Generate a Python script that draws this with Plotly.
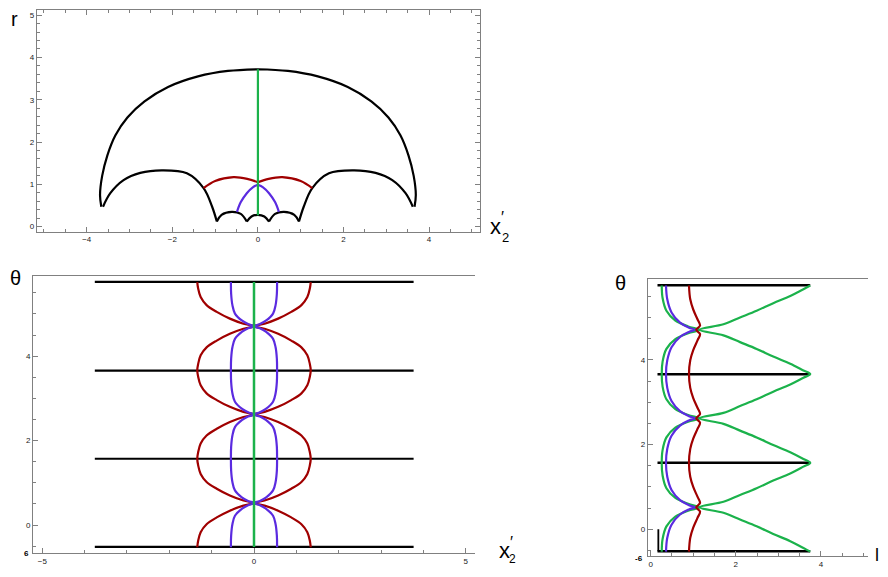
import plotly.graph_objects as go

# ---- top panel (x2', r): curves (left half, mirrored) ----
big_arc_x = [-3.66, -3.69, -3.64, -3.52, -3.33, -3.05, -2.65, -2.10, -1.40, -0.70, 0.0]
big_arc_y = [0.47, 0.75, 1.20, 1.68, 2.16, 2.58, 2.96, 3.30, 3.55, 3.68, 3.72]
mid_arc_x = [-3.62, -3.45, -3.14, -2.75, -2.25, -1.66, -1.27, -1.07, -0.96]
mid_arc_y = [0.47, 0.79, 1.10, 1.27, 1.33, 1.26, 0.91, 0.47, 0.12]
small_arc_x = [-0.96, -0.85, -0.61, -0.40, -0.26]
small_arc_y = [0.12, 0.28, 0.35, 0.30, 0.12]
center_arc_x = [-0.26, -0.15, 0.0, 0.15, 0.26]
center_arc_y = [0.12, 0.24, 0.28, 0.24, 0.12]
red_arc_x = [-1.27, -1.00, -0.57, -0.25, 0.0]
red_arc_y = [0.91, 1.08, 1.17, 1.13, 1.05]
blue_arc_x = [-0.49, -0.40, -0.26, -0.12, 0.0]
blue_arc_y = [0.35, 0.58, 0.79, 0.93, 0.99]
green_r = [0.27, 3.72]

# ---- theta panels ----
crossings = [0.52, 2.62, 4.71]
black_thetas = [-0.52, 1.57, 3.66, 5.76]
# distance in theta from a crossing, and curve half-width (x2') / value (l)
bl_red_dth = [0, 0.06, 0.18, 0.34, 0.50, 0.69, 0.90, 1.047]
bl_red_x = [0, 0.25, 0.57, 0.88, 1.12, 1.26, 1.32, 1.34]
bl_blue_dth = [0, 0.05, 0.13, 0.30, 0.50, 0.77, 1.047]
bl_blue_x = [0, 0.14, 0.28, 0.45, 0.51, 0.54, 0.545]
bl_black_x = [-3.76, 3.77]

rp_red_dth = [0, 0.10, 0.25, 0.48, 0.72, 1.047]
rp_red_l = [1.07, 1.16, 1.10, 1.00, 0.93, 0.90]
rp_blue_dth = [0, 0.05, 0.17, 0.41, 0.72, 1.047]
rp_blue_l = [1.04, 0.90, 0.69, 0.49, 0.39, 0.36]
rp_gin_dth = [0, 0.08, 0.22, 0.45, 0.75, 1.047]
rp_gin_l = [1.15, 0.88, 0.58, 0.37, 0.28, 0.26]
rp_gout_dth = [0, 0.13, 0.29, 0.45, 0.63, 0.80, 0.96, 1.047]
rp_gout_l = [1.15, 1.71, 2.10, 2.49, 2.88, 3.28, 3.59, 3.75]
rp_black_l = [0.16, 3.75]

RED, BLUE, GREEN, BLACK = "#a00000", "#5b2be0", "#1bb24b", "#000000"
# the page body keeps an 8px margin on every side; keep the figure inside the window
OFF = 8
W, H = 888 - 2 * OFF, 577 - 2 * OFF


def fx(px):
    return (px - OFF) / W


def fy(py):
    return 1 - (py - OFF) / H


def mirror(xs, ys):
    return xs + [-v for v in reversed(xs)], ys + list(reversed(ys))


def branch(dth, vals, sign=1):
    th, xs = [], []
    pairs = list(zip(dth, vals))
    for i, c in enumerate(crossings):
        lower = pairs[::-1] if i == 0 else pairs[::-1][1:]
        for d, v in lower:
            th.append(c - d); xs.append(sign * v)
        for d, v in pairs[1:]:
            th.append(c + d); xs.append(sign * v)
    return xs, th


def line(fig, x, y, color, ax, width=2.2, spline=True):
    fig.add_trace(go.Scatter(x=x, y=y, mode="lines", xaxis="x" + ax, yaxis="y" + ax,
                             line=dict(color=color, width=width,
                                       shape="spline" if spline else "linear", smoothing=1.0),
                             hoverinfo="skip"))


fig = go.Figure()

# top panel
bx, by = mirror(big_arc_x, big_arc_y)
line(fig, bx, by, BLACK, "")
for xs, ys in [(mid_arc_x, mid_arc_y), (small_arc_x, small_arc_y)]:
    line(fig, xs, ys, BLACK, "")
    line(fig, [-v for v in xs], ys, BLACK, "")
line(fig, center_arc_x, center_arc_y, BLACK, "")
line(fig, red_arc_x, red_arc_y, RED, "")
line(fig, [-v for v in red_arc_x], red_arc_y, RED, "")
line(fig, blue_arc_x, blue_arc_y, BLUE, "")
line(fig, [-v for v in blue_arc_x], blue_arc_y, BLUE, "")
line(fig, [0, 0], green_r, GREEN, "", spline=False)

# bottom-left panel
for t in black_thetas:
    line(fig, bl_black_x, [t, t], BLACK, "2", spline=False)
for sgn in (1, -1):
    x, t = branch(bl_red_dth, bl_red_x, sgn)
    line(fig, x, t, RED, "2")
    x, t = branch(bl_blue_dth, bl_blue_x, sgn)
    line(fig, x, t, BLUE, "2")
line(fig, [0, 0], [black_thetas[0], black_thetas[-1]], GREEN, "2", width=2.5, spline=False)

# right panel
for t in black_thetas:
    line(fig, rp_black_l, [t, t], BLACK, "3", width=2.5, spline=False)
line(fig, [0.18, 0.18], [-0.52, 0.0], BLACK, "3", width=1.8, spline=False)
x, t = branch(rp_gin_dth, rp_gin_l)
line(fig, x, t, GREEN, "3")
x, t = branch(rp_blue_dth, rp_blue_l)
line(fig, x, t, BLUE, "3")
x, t = branch(rp_red_dth, rp_red_l)
line(fig, x, t, RED, "3")
x, t = branch(rp_gout_dth, rp_gout_l)
line(fig, x, t, GREEN, "3")

tick = dict(size=8, color="#222", family="Liberation Sans")
FR = "#808080"


def ax(domain, rng, dtick, minor, mirror, anchor):
    return dict(domain=domain, range=rng, anchor=anchor, dtick=dtick, tick0=0,
                showline=True, linecolor=FR, linewidth=1, mirror=mirror,
                ticks="inside", ticklen=5, tickcolor=FR, tickfont=tick,
                minor=dict(dtick=minor, ticks="inside", ticklen=3, tickcolor=FR),
                showgrid=False, zeroline=False, automargin=False)


fig.update_layout(
    width=W, height=H, autosize=False, showlegend=False,
    margin=dict(l=0, r=0, t=0, b=0),
    paper_bgcolor="white", plot_bgcolor="white",
    xaxis=ax([fx(36.7), fx(480)], [-5.17, 5.19], 2, 0.5, "allticks", "y"),
    yaxis=ax([fy(231.7), fy(10)], [-0.12, 5.12], 1, 0.2, "allticks", "x"),
    xaxis2=ax([fx(33), fx(475)], [-5.22, 5.22], 5, 1, True, "y2"),
    yaxis2=ax([fy(553.3), fy(276)], [-0.67, 5.90], 2, 0.5, False, "x2"),
    xaxis3=ax([fx(647.7), fx(867.7)], [-0.07, 5.1], 2, 0.5, True, "y3"),
    yaxis3=ax([fy(556), fy(279)], [-0.63, 5.91], 2, 0.5, False, "x3"),
)


def label(text, px, py, size, bold=False, anchor="center"):
    fig.add_annotation(text=("<b>%s</b>" % text) if bold else text, x=fx(px), y=fy(py),
                       xref="paper", yref="paper", showarrow=False,
                       xanchor=anchor, yanchor="middle", borderpad=0,
                       font=dict(size=size, color="black", family="Liberation Sans"))


label("r", 14, 19, 20)
label("θ", 15, 278, 20)
label("θ", 620, 283, 20)
for (xx, xy), (px_, py_), (sx, sy), s2 in [((495, 226), (503, 218), (505, 237), 13),
                                           ((504, 550), (511, 542), (512, 559), 12)]:
    label("x", xx, xy, 22)
    label("′", px_, py_, 16)
    label("2", sx, sy, s2)
label("l", 877, 555, 18)
label("6", 26, 553, 8, bold=True)
label("-6", 639, 558, 8, bold=True)

fig.write_html("out.html")
